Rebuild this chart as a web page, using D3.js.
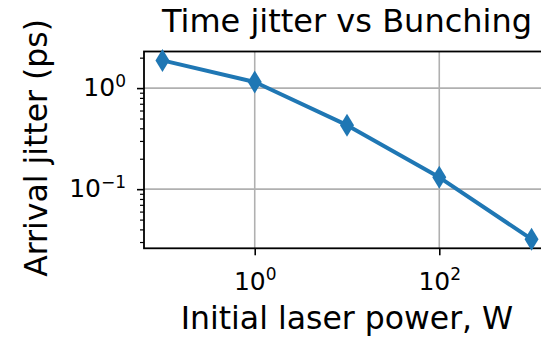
<!DOCTYPE html>
<html>
<head>
<meta charset="utf-8">
<script src="https://cdn.jsdelivr.net/npm/d3@7"></script>
<style>
  body { margin: 0; background: #fff; }
  svg { display: block; }
  text { font-family: "DejaVu Sans", sans-serif; fill: #000; }
</style>
</head>
<body>
<svg id="chart" width="541" height="337"></svg>
<script>
// Arrival jitter against initial laser power (log-log)
const powers = [0.1, 1, 10, 100, 1000];
const jitter = [1.88, 1.15, 0.43, 0.131, 0.032];
const xMajorTicks = [1, 100];
const yMajorTicks = [0.1, 1];
const yMinorTicks = [0.03, 0.04, 0.05, 0.06, 0.07, 0.08, 0.09,
                     0.2, 0.3, 0.4, 0.5, 0.6, 0.7, 0.8, 0.9, 2];
const titleText = "Time jitter vs Bunching";
const xLabelText = "Initial laser power, W";
const yLabelText = "Arrival jitter (ps)";

const svg = d3.select("#chart");
const plot = { left: 144, top: 51.5, bottom: 248.3, right: 550 };
const color = "#1f77b4";

const x = d3.scaleLog()
  .domain([Math.pow(10, -1.2), Math.pow(10, 3.2)])
  .range([plot.left, plot.right]);
const y = d3.scaleLog()
  .domain([Math.pow(10, -1.585), Math.pow(10, 0.362)])
  .range([plot.bottom, plot.top]);
const midX = (plot.left + plot.right) / 2;
const midY = (plot.top + plot.bottom) / 2;

// grid
const grid = svg.append("g").attr("stroke", "#b0b0b0").attr("stroke-width", 1.6);
grid.selectAll("line.gx").data(xMajorTicks).join("line")
  .attr("x1", d => x(d)).attr("x2", d => x(d))
  .attr("y1", plot.top).attr("y2", plot.bottom);
grid.selectAll("line.gy").data(yMajorTicks).join("line")
  .attr("y1", d => y(d)).attr("y2", d => y(d))
  .attr("x1", plot.left).attr("x2", plot.right);

// exponent labels: 10 with superscript power
function powLabel(sel) {
  sel.each(function(d) {
    const e = Math.round(Math.log10(d));
    const t = d3.select(this).text(null);
    t.append("tspan").text("10");
    t.append("tspan").attr("dy", "-0.55em").attr("font-size", "0.68em")
      .text(e < 0 ? "\u2212" + Math.abs(e) : String(e));
  });
}

// x axis
const xAxis = svg.append("g")
  .attr("transform", `translate(0,${plot.bottom})`)
  .call(d3.axisBottom(x).tickValues(xMajorTicks).tickSize(7).tickPadding(7).tickSizeOuter(0));
xAxis.select(".domain").remove();
xAxis.selectAll(".tick line").attr("stroke", "#000").attr("stroke-width", 1.6);
xAxis.selectAll(".tick text").attr("font-size", 25).attr("dy", "1.1em").call(powLabel);

// y axis majors
const yAxis = svg.append("g")
  .attr("transform", `translate(${plot.left},0)`)
  .call(d3.axisLeft(y).tickValues(yMajorTicks).tickSize(7).tickPadding(11).tickSizeOuter(0));
yAxis.select(".domain").remove();
yAxis.selectAll(".tick line").attr("stroke", "#000").attr("stroke-width", 1.6);
yAxis.selectAll(".tick text").attr("font-size", 25).attr("dy", "0.3em").call(powLabel);

// y axis minors
const yMinor = svg.append("g")
  .attr("transform", `translate(${plot.left},0)`)
  .call(d3.axisLeft(y).tickValues(yMinorTicks).tickSize(4).tickFormat(""));
yMinor.select(".domain").remove();
yMinor.selectAll(".tick line").attr("stroke", "#000").attr("stroke-width", 1.2);

// frame
svg.append("rect")
  .attr("x", plot.left).attr("y", plot.top)
  .attr("width", plot.right - plot.left).attr("height", plot.bottom - plot.top)
  .attr("fill", "none").attr("stroke", "#000").attr("stroke-width", 1.8);

// data line
const pts = powers.map((p, i) => [p, jitter[i]]);
svg.append("path")
  .datum(pts)
  .attr("fill", "none")
  .attr("stroke", color)
  .attr("stroke-width", 4)
  .attr("stroke-linejoin", "round")
  .attr("d", d3.line().x(d => x(d[0])).y(d => y(d[1])));

// thin diamond markers
const mh = 11.5, mw = 7;
svg.selectAll("path.marker").data(pts).join("path")
  .attr("class", "marker")
  .attr("fill", color)
  .attr("d", `M0,${-mh}L${mw},0L0,${mh}L${-mw},0Z`)
  .attr("transform", d => `translate(${x(d[0])},${y(d[1])})`);

// title and axis labels
svg.append("text")
  .attr("x", midX).attr("y", 32)
  .attr("text-anchor", "middle").attr("font-size", 32)
  .text(titleText);
svg.append("text")
  .attr("x", midX).attr("y", 329)
  .attr("text-anchor", "middle").attr("font-size", 31.5)
  .text(xLabelText);
svg.append("text")
  .attr("transform", `translate(47,${midY - 2}) rotate(-90)`)
  .attr("text-anchor", "middle").attr("font-size", 31.5)
  .text(yLabelText);
</script>
</body>
</html>
